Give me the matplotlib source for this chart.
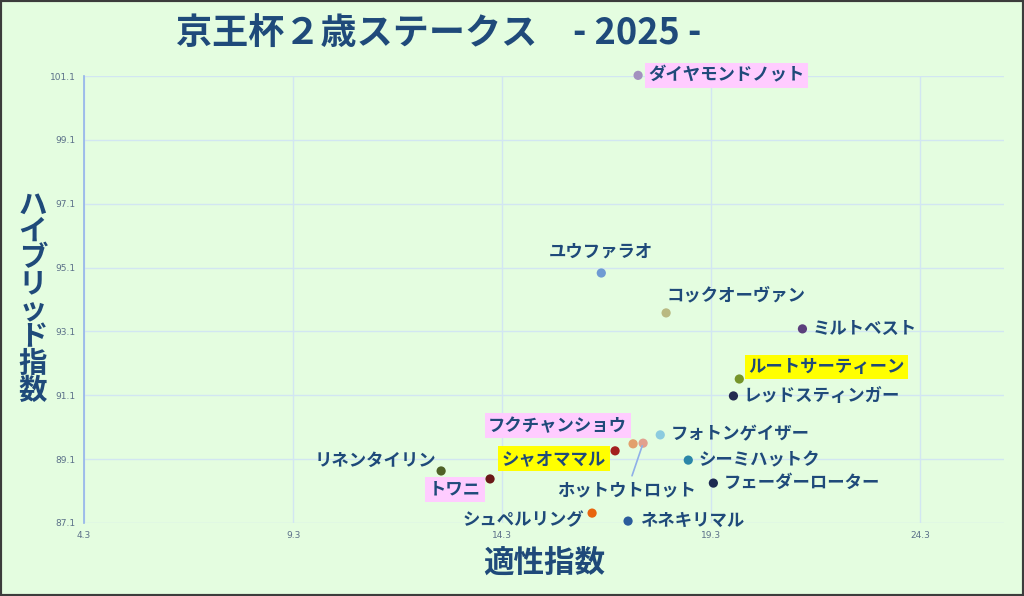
import matplotlib
matplotlib.use('Agg')
import matplotlib.pyplot as plt
from matplotlib.patches import Rectangle

plt.rcParams['font.family'] = ['Noto Sans CJK JP', 'DejaVu Sans']

# horse data: (適性指数, ハイブリッド指数)
names = ['ダイヤモンドノット', 'ユウファラオ', 'コックオーヴァン', 'ミルトベスト',
         'ルートサーティーン', 'レッドスティンガー', 'フォトンゲイザー', 'シーミハットク',
         'フェーダーローター', 'ネネキリマル', 'シュペルリング', 'フクチャンショウ',
         'ホットウトロット', 'シャオママル', 'リネンタイリン', 'トワニ']
aptitude = [17.55, 16.67, 18.22, 21.48, 19.97, 19.83, 18.08, 18.75,
            19.35, 17.31, 16.45, 17.43, 17.67, 17.0, 12.84, 14.01]
hybrid = [101.12, 94.93, 93.68, 93.18, 91.61, 91.08, 89.86, 89.07,
          88.35, 87.16, 87.41, 89.58, 89.6, 89.36, 88.73, 88.48]
x_ticks = [4.3, 9.3, 14.3, 19.3, 24.3]
y_ticks = [87.1, 89.1, 91.1, 93.1, 95.1, 97.1, 99.1, 101.1]

# styling
dot_colors = ['#a391bf', '#6f9bd3', '#b9b982', '#5b3f7c', '#76952a', '#232a50',
              '#8ccbdf', '#2b86a8', '#1d2a52', '#2b5c9c', '#e8650e', '#e2a06c',
              '#e2a08e', '#a31f1f', '#4f6127', '#6a1818']
# label offsets in pixels, horizontal alignment, highlight box colour
label_style = {
    'ダイヤモンドノット': ((10, 0), 'left', '#ffccff'),
    'ユウファラオ': ((0, 21), 'center', None),
    'コックオーヴァン': ((0, 18), 'left', None),
    'ミルトベスト': ((10, 0), 'left', None),
    'ルートサーティーン': ((9, 12), 'left', '#ffff00'),
    'レッドスティンガー': ((10, 0), 'left', None),
    'フォトンゲイザー': ((10, 1), 'left', None),
    'シーミハットク': ((10, 0), 'left', None),
    'フェーダーローター': ((10, 0), 'left', None),
    'ネネキリマル': ((12, 0), 'left', None),
    'シュペルリング': ((-8, -7), 'right', None),
    'フクチャンショウ': ((-6, 18), 'right', '#ffccff'),
    'ホットウトロット': ((-16, -47), 'center', None),
    'シャオママル': ((-9, -8), 'right', '#ffff00'),
    'リネンタイリン': ((-5, 10), 'right', None),
    'トワニ': ((-9, -11), 'right', '#ffccff'),
}

BG = '#e4fde0'
NAVY = '#1f4a7a'

fig = plt.figure(figsize=(10.24, 5.96), dpi=100, facecolor=BG)
ax = fig.add_axes([84 / 1024, 1 - 523 / 596, 920 / 1024, 447 / 596])
ax.set_facecolor(BG)
ax.set_xlim(4.3, 26.3)
ax.set_ylim(87.1, 101.1)
ax.set_xticks(x_ticks)
ax.set_yticks(y_ticks)
ax.set_xticklabels([f'{v:.1f}' for v in x_ticks])
ax.set_yticklabels([f'{v:.1f}' for v in y_ticks])
ax.tick_params(length=0, labelsize=6.5, labelcolor='#5b7089', pad=6)
for lbl in ax.get_xticklabels() + ax.get_yticklabels():
    lbl.set_family('DejaVu Sans')
ax.grid(True, color='#d2e6f2', linewidth=1)
ax.set_axisbelow(True)
for side in ['top', 'right', 'bottom']:
    ax.spines[side].set_visible(False)
ax.spines['left'].set_color('#93b3ea')
ax.spines['left'].set_linewidth(1.2)

ax.scatter(aptitude, hybrid, s=44, c=dot_colors, zorder=3, clip_on=False,
           edgecolors='none')

for name, x, y in zip(names, aptitude, hybrid):
    (dx, dy), ha, box = label_style[name]
    kw = {}
    if box:
        kw['bbox'] = dict(boxstyle='square,pad=0.2', facecolor=box, edgecolor='none')
    if name == 'ホットウトロット':
        kw['arrowprops'] = dict(arrowstyle='-', color='#8fb0e8', lw=1.2,
                                shrinkA=2, shrinkB=2)
    ax.annotate(name, (x, y), xytext=(dx, dy), textcoords='offset pixels',
                ha=ha, va='center', fontsize=12.5, fontweight='bold',
                color=NAVY, zorder=4, annotation_clip=False, **kw)

# title in two pieces so the year sits where it does in the original
fig.text(176 / 1024, 1 - 33 / 596, '京王杯２歳ステークス', fontsize=26,
         fontweight='bold', color=NAVY, ha='left', va='center')
fig.text(637 / 1024, 1 - 33 / 596, '- 2025 -', fontsize=26,
         fontweight='bold', color=NAVY, ha='center', va='center')
fig.text(544 / 1024, 1 - 563 / 596, '適性指数', fontsize=22, color=NAVY,
         ha='center', va='center', fontweight='bold')
fig.text(33 / 1024, 1 - 298 / 596, '\n'.join('ハイブリッド指数'), fontsize=20.5,
         color=NAVY, ha='center', va='center', linespacing=0.93,
         fontweight='bold')

fig.patches.append(Rectangle((0, 0), 1, 1, transform=fig.transFigure,
                             fill=False, edgecolor='#3c3c3c', linewidth=3))

fig.savefig('out.png', dpi=100, facecolor=BG)
